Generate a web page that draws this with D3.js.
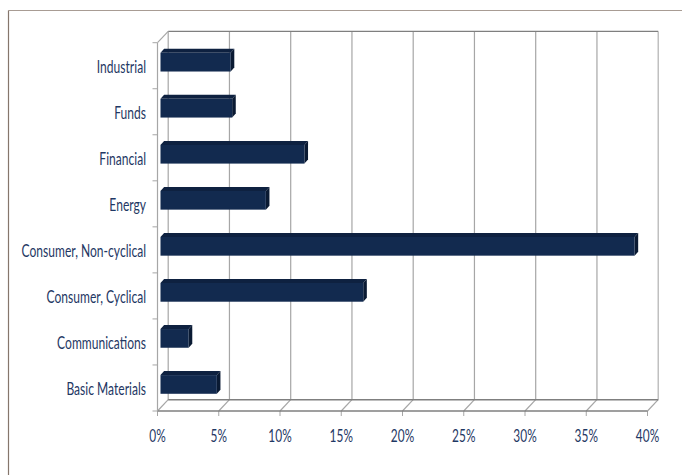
<!DOCTYPE html>
<html><head><meta charset="utf-8">
<script src="https://cdn.jsdelivr.net/npm/d3@7"></script>
<style>html,body{margin:0;padding:0;background:#fff}svg{display:block}text{font-family:Lato,"Open Sans",sans-serif}</style>
</head><body><div id="c"></div>
<script>
const categories=["Industrial","Funds","Financial","Energy","Consumer, Non-cyclical","Consumer, Cyclical","Communications","Basic Materials"];
const values=[5.73,5.85,11.75,8.6,38.7,16.55,2.3,4.6];
const tickValues=[0,5,10,15,20,25,30,35,40];
const tickLabels=["0%","5%","10%","15%","20%","25%","30%","35%","40%"];
const W=682,H=475;
const svg=d3.select("#c").append("svg").attr("width",W).attr("height",H);
const x=d3.scaleLinear().domain([0,40]).range([157.5,647.5]);
const y=d3.scaleBand().domain(categories).range([42.7,411]);
const dx=10.7,dy=-11.3;
const grid="#a6a6a6",dark="#7f7f7f";
svg.append("path").attr("d",`M${W},10.5H8.5`).attr("fill","none").attr("stroke","#a89c94").attr("stroke-width",1.2);
svg.append("path").attr("d",`M8.5,10.5V${H}`).attr("fill","none").attr("stroke","#85766c").attr("stroke-width",1.2);
const g=svg.append("g");
tickValues.forEach(t=>{
 g.append("line").attr("x1",x(t)+dx).attr("x2",x(t)+dx).attr("y1",42.7+dy).attr("y2",411+dy).attr("stroke",t===40?"#b0b0b0":grid).attr("stroke-width",1.2);
 g.append("line").attr("x1",x(t)).attr("x2",x(t)+dx).attr("y1",411).attr("y2",411+dy).attr("stroke",grid).attr("stroke-width",1.2);
 g.append("line").attr("x1",x(t)).attr("x2",x(t)).attr("y1",411).attr("y2",416).attr("stroke",grid).attr("stroke-width",1);
});
g.append("line").attr("x1",x(0)+dx).attr("x2",x(40)+dx).attr("y1",42.7+dy).attr("y2",42.7+dy).attr("stroke",dark).attr("stroke-width",1.4);
g.append("line").attr("x1",x(0)+dx).attr("x2",x(40)+dx).attr("y1",411+dy).attr("y2",411+dy).attr("stroke",dark).attr("stroke-width",1.4);
g.append("line").attr("x1",x(0)).attr("x2",x(40)).attr("y1",411).attr("y2",411).attr("stroke",dark).attr("stroke-width",1.4);
g.append("line").attr("x1",x(0)).attr("x2",x(0)).attr("y1",42.7).attr("y2",411).attr("stroke",grid).attr("stroke-width",1.2);
g.append("line").attr("x1",x(0)).attr("x2",x(0)+dx).attr("y1",42.7).attr("y2",42.7+dy).attr("stroke",grid).attr("stroke-width",1.2);
[...categories.map(c=>y(c)),411].forEach(v=>g.append("line").attr("x1",x(0)-5).attr("x2",x(0)).attr("y1",v).attr("y2",v).attr("stroke",grid));
const bh=18.7,off=4,d=3.6,bx=3;
const bars=svg.selectAll(".bar").data(categories).join("g").attr("class","bar");
const barTop=c=>y(c)+y.bandwidth()/2+5.8-bh;
const xe=(c,i)=>x(values[i])+bx;
bars.append("path").attr("fill","#0e2140").attr("d",(c,i)=>{const t=barTop(c),a=x(0)+bx,b=xe(c,i);return `M${a},${t}L${a+d},${t-off}H${b+d}L${b},${t}Z`});
bars.append("path").attr("fill","#0a1a33").attr("d",(c,i)=>{const t=barTop(c),b=xe(c,i);return `M${b},${t}L${b+d},${t-off}V${t+bh-off}L${b},${t+bh}Z`});
bars.append("rect").attr("fill","#122a4f").attr("x",x(0)+bx).attr("y",c=>barTop(c)).attr("width",(c,i)=>xe(c,i)-x(0)-bx).attr("height",bh);
svg.selectAll(".cat").data(categories).join("text").attr("class","cat").text(c=>c).attr("text-anchor","end").attr("font-size",17).attr("fill","#1f3864")
 .attr("transform",c=>`translate(146,${y(c)+y.bandwidth()/2+7}) scale(0.71,1)`);
tickValues.forEach((t,i)=>svg.append("text").text(tickLabels[i]).attr("text-anchor","middle").attr("font-size",16.5).attr("fill","#1f3864").attr("transform",`translate(${x(t)},441.5) scale(0.72,1)`));
</script></body></html>
